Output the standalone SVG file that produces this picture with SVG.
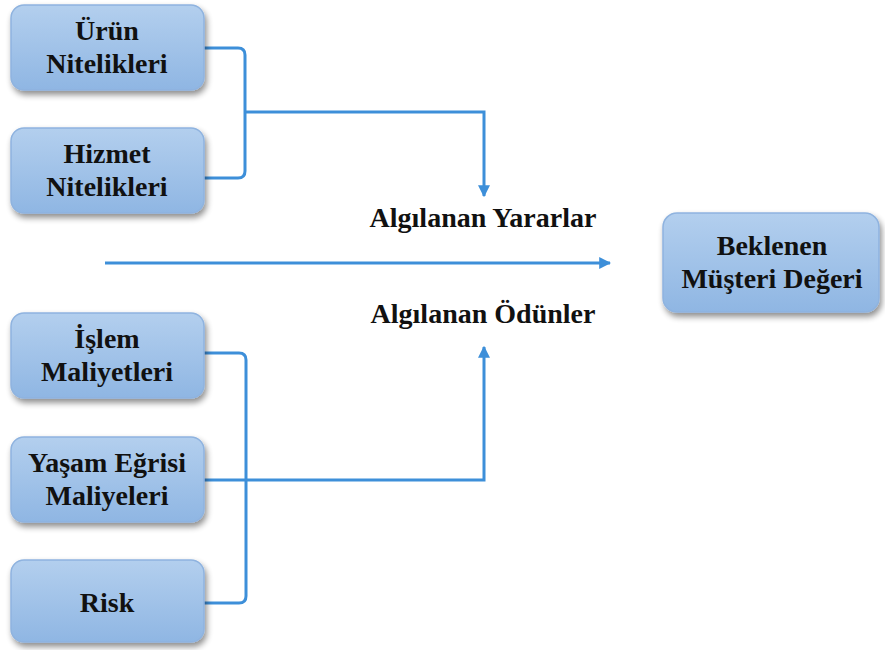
<svg xmlns="http://www.w3.org/2000/svg" width="885" height="650" viewBox="0 0 885 650" font-family="Liberation Serif, serif" font-weight="bold">
  <style>
    .box { fill: url(#boxFill); stroke: #8fb3df; stroke-width: 1.5; filter: url(#shadow); }
    .lbl { font-size: 28px; fill: #111; text-anchor: middle; }
    .wire { fill: none; stroke: #3d8fd9; stroke-width: 3; }
  </style>
  <defs>
    <linearGradient id="boxFill" x1="0" y1="0" x2="0" y2="1">
      <stop offset="0" stop-color="#b3cfee"/>
      <stop offset="1" stop-color="#8fb6e3"/>
    </linearGradient>
    <filter id="shadow" x="-10%" y="-10%" width="125%" height="135%">
      <feGaussianBlur in="SourceAlpha" stdDeviation="3"/>
      <feOffset dx="2" dy="4" result="b"/>
      <feComponentTransfer><feFuncA type="linear" slope="0.45"/></feComponentTransfer>
      <feMerge><feMergeNode/><feMergeNode in="SourceGraphic"/></feMerge>
    </filter>
    <marker id="tip" viewBox="0 0 10 10" refX="9" refY="5" markerWidth="4" markerHeight="4" orient="auto">
      <path d="M0,0 L10,5 L0,10 z" fill="#3d8fd9"/>
    </marker>
  </defs>
  <rect width="885" height="650" fill="#fff"/>

  <g id="connectors">
    <!-- benefits bracket -->
    <path class="wire" d="M204,48 H238 Q245,48 245,55 V171 Q245,178 238,178 H204"/>
    <path class="wire" d="M245,112 H484 V196" marker-end="url(#tip)"/>
    <!-- main axis -->
    <path class="wire" d="M105,263 H610" marker-end="url(#tip)"/>
    <!-- costs bracket -->
    <path class="wire" d="M204,353 H239 Q246,353 246,360 V596 Q246,603 239,603 H204"/>
    <path class="wire" d="M204,480 H484 V347" marker-end="url(#tip)"/>
  </g>

  <g id="urun">
    <rect class="box" x="11" y="5" width="193" height="85" rx="13"/>
    <text class="lbl" x="107" y="40">Ürün</text>
    <text class="lbl" x="107" y="73">Nitelikleri</text>
  </g>
  <g id="hizmet">
    <rect class="box" x="11" y="128" width="193" height="85" rx="13"/>
    <text class="lbl" x="107" y="163">Hizmet</text>
    <text class="lbl" x="107" y="196">Nitelikleri</text>
  </g>
  <g id="islem">
    <rect class="box" x="11" y="313" width="193" height="85" rx="13"/>
    <text class="lbl" x="107" y="348">İşlem</text>
    <text class="lbl" x="107" y="381">Maliyetleri</text>
  </g>
  <g id="yasam">
    <rect class="box" x="11" y="437" width="193" height="85" rx="13"/>
    <text class="lbl" x="107" y="472">Yaşam Eğrisi</text>
    <text class="lbl" x="107" y="505">Maliyeleri</text>
  </g>
  <g id="risk">
    <rect class="box" x="11" y="560" width="193" height="82" rx="13"/>
    <text class="lbl" x="107" y="612">Risk</text>
  </g>
  <g id="beklenen">
    <rect class="box" x="663" y="213" width="216" height="99" rx="14"/>
    <text class="lbl" x="772" y="255">Beklenen</text>
    <text class="lbl" x="772" y="288">Müşteri Değeri</text>
  </g>

  <g id="labels">
    <text class="lbl" x="483" y="227" font-size="27">Algılanan Yararlar</text>
    <text class="lbl" x="483" y="323" font-size="27">Algılanan Ödünler</text>
  </g>
</svg>
